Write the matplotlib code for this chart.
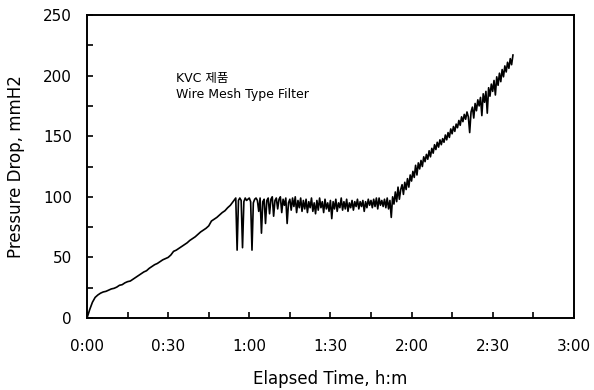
import numpy as np
import matplotlib.pyplot as plt
from matplotlib.ticker import MultipleLocator, FuncFormatter

# pressure drop (mmH2O)
# 0-54 min, one reading per minute
p_early = [0, 7, 13, 17, 19, 20.5, 21.5, 22, 23, 24,
           24.5, 25.5, 27, 27.5, 29, 30, 30.5, 32, 33.5, 35,
           36.5, 38, 39, 41, 42.5, 44, 45, 46.5, 48, 49,
           50, 52, 55, 56, 57.5, 59, 60.5, 62, 64, 65.5,
           67, 69, 71, 72.5, 74, 76, 80, 81.5, 83, 85,
           87, 88.5, 91, 93, 96]
# 55-157.5 min, one reading per half minute
p_late = [99, 56, 97, 99, 97, 58, 96, 99, 97, 98,
          99, 96, 56, 95, 98, 99, 97, 88, 99, 70,
          96, 98, 78, 97, 99, 86, 98, 100, 84, 97,
          99, 90, 98, 100, 87, 98, 93, 99, 78, 95,
          98, 89, 99, 92, 100, 87, 97, 91, 99, 88,
          97, 90, 98, 87, 96, 91, 99, 88, 95, 86,
          97, 89, 99, 91, 96, 87, 98, 90, 95, 88,
          97, 82, 96, 90, 98, 88, 95, 91, 99, 89,
          96, 90, 98, 88, 95, 91, 97, 89, 96, 92,
          98, 90, 96, 92, 97, 88, 96, 91, 98, 93,
          97, 91, 98, 92, 99, 90, 99, 93, 97, 92,
          98, 91, 99, 90, 97, 83, 100, 94, 104, 96,
          108, 98, 106, 110, 102, 112, 106, 115, 108, 118,
          113, 121, 116, 126, 118, 128, 123, 130, 125, 133,
          129, 135, 131, 138, 133, 140, 136, 143, 139, 145,
          141, 147, 143, 148, 145, 151, 147, 153, 149, 156,
          152, 158, 154, 160, 157, 163, 159, 166, 162, 168,
          164, 170, 166, 153, 170, 174, 165, 177, 171, 180,
          175, 182, 167, 185, 178, 187, 169, 190, 183, 193,
          187, 196, 184, 199, 192, 202, 195, 205, 199, 208,
          203, 211, 206, 214, 209, 217]

t_early = np.arange(len(p_early))
t_late = 55 + 0.5 * np.arange(len(p_late))
minutes = np.concatenate([t_early, t_late])
pressure = np.concatenate([p_early, p_late])

plt.rcParams['font.family'] = ['DejaVu Sans', 'Noto Sans CJK KR']

fig = plt.figure(figsize=(5.94, 3.90), dpi=100)
ax = fig.add_axes([0.1465, 0.1846, 0.8195, 0.7769])

ax.plot(minutes, pressure, color='black', lw=1.2)

ax.set_xlim(0, 180)
ax.set_ylim(0, 250)
ax.xaxis.set_major_locator(MultipleLocator(30))
ax.xaxis.set_minor_locator(MultipleLocator(15))
ax.yaxis.set_major_locator(MultipleLocator(50))
ax.yaxis.set_minor_locator(MultipleLocator(25))
ax.xaxis.set_major_formatter(FuncFormatter(lambda v, p: '%d:%02d' % (v // 60, v % 60)))
ax.tick_params(which='both', direction='in', length=4, width=1.2,
               top=False, right=False, labelsize=11)
ax.tick_params(axis='x', which='major', pad=15)
ax.tick_params(axis='y', which='major', pad=11)
for s in ax.spines.values():
    s.set_linewidth(1.4)

ax.set_xlabel('Elapsed Time, h:m', fontsize=12)
ax.set_ylabel('Pressure Drop, mmH2', fontsize=12)
ax.xaxis.set_label_coords(0.5, -0.172)
ax.yaxis.set_label_coords(-0.127, 0.5)

ax.text(33, 203, 'KVC 제품\nWire Mesh Type Filter', fontsize=9,
        va='top', ha='left', linespacing=1.3)

fig.savefig('out.png', dpi=100)
